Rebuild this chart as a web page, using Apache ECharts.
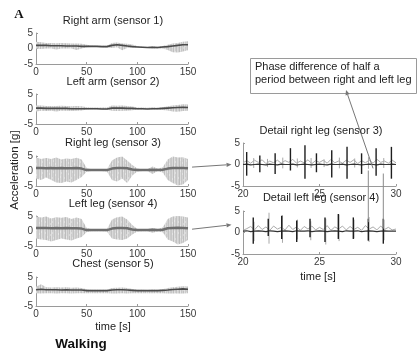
<!DOCTYPE html>
<html><head><meta charset="utf-8">
<script src="https://cdn.jsdelivr.net/npm/echarts@6/dist/echarts.min.js"></script>
<style>html,body{margin:0;padding:0;background:#fff}#c{width:417px;height:356px}</style>
</head><body><div id="c"></div>
<script>
// ---- overview time bins (s) ----
const tBins = [0,5,10,15,20,25,30,35,40,45,50,55,60,65,70,75,80,85,90,95,100,105,110,115,120,125,130,135,140,145,150];
const xTicksOverview = [0,50,100,150];
const yTicks = [-5,0,5];

// Right arm (sensor 1)
const rArmHi  = [2.2,2.0,1.8,1.8,1.7,1.8,1.7,1.6,1.6,1.5,1.2,1.0,0.9,0.9,0.9,1.8,1.9,1.6,1.5,1.3,0.8,0.6,0.5,0.7,0.6,0.8,1.2,1.6,1.8,2.2,2.3];
const rArmLo  = [0.0,-0.2,0.0,0.0,-0.3,0.0,0.0,0.0,-0.5,0.0,0.4,0.5,0.5,0.4,0.3,0.2,0.4,-0.6,0.2,0.3,0.4,0.3,0.2,0.0,0.0,0.0,-0.5,-1.2,-1.3,-1.0,-0.6];
const rArmMid = [1.0,1.0,1.0,0.9,0.9,0.9,0.8,0.8,0.8,0.7,0.7,0.7,0.7,0.6,0.6,1.0,1.2,1.0,0.8,0.6,0.5,0.4,0.3,0.4,0.3,0.5,0.6,0.8,1.0,1.2,1.2];
// Left arm (sensor 2)
const lArmHi  = [1.2,1.2,1.0,1.0,1.0,1.1,1.0,0.9,1.0,0.9,0.6,0.5,0.5,0.5,0.5,1.2,1.1,1.2,1.0,0.8,0.5,0.5,0.4,0.6,0.5,0.6,0.9,1.2,1.3,1.6,1.5];
const lArmLo  = [-0.8,-0.6,-0.7,-0.6,-0.8,-0.6,-0.6,-0.7,-0.6,-0.5,-0.2,-0.1,-0.1,-0.1,-0.2,-0.6,-0.7,-0.6,-0.6,-0.4,-0.2,-0.2,-0.1,-0.2,-0.2,-0.3,-0.5,-0.8,-0.9,-0.7,-0.6];
const lArmMid = [0.3,0.3,0.2,0.2,0.2,0.2,0.2,0.1,0.1,0.1,0.1,0.1,0.1,0.0,0.0,0.3,0.3,0.3,0.2,0.2,0.1,0.1,0.0,0.1,0.1,0.2,0.3,0.4,0.5,0.6,0.5];
// Right leg (sensor 3)
const rLegHi  = [4.5,4.0,4.3,4.0,4.5,3.8,4.2,4.0,4.4,3.8,1.0,0.6,0.6,0.5,0.6,3.5,4.5,4.8,3.5,2.0,0.8,0.6,0.6,1.5,0.8,1.2,3.8,4.8,4.5,4.6,4.0];
const rLegLo  = [-2.5,-3.0,-2.2,-3.0,-3.8,-4.0,-3.5,-3.8,-3.0,-2.0,-0.2,0.0,0.0,0.0,-0.2,-3.0,-3.5,-2.5,-4.0,-1.5,-0.2,0.0,0.0,-1.0,0.0,-0.5,-3.0,-4.0,-4.8,-4.5,-3.0];
const rLegMid = [1.0,1.0,0.9,1.0,0.9,1.0,0.9,0.9,1.0,0.8,0.3,0.3,0.3,0.3,0.3,0.8,1.0,1.0,0.9,0.5,0.3,0.3,0.3,0.4,0.3,0.4,0.8,1.0,1.0,1.0,0.9];
// Left leg (sensor 4)
const lLegHi  = [4.8,4.5,4.8,4.2,4.6,4.4,4.7,4.0,4.5,4.0,1.0,0.6,0.6,0.6,0.6,3.8,4.6,4.8,3.8,2.0,0.7,0.6,0.6,1.0,0.7,1.2,4.0,4.8,5.0,4.8,4.5];
const lLegLo  = [-2.5,-2.8,-3.0,-3.5,-3.0,-2.5,-2.8,-3.2,-2.5,-2.0,-0.3,-0.1,-0.1,-0.1,-0.2,-2.5,-2.8,-3.0,-2.5,-1.2,-0.2,-0.1,-0.1,-0.6,-0.2,-0.4,-2.8,-3.5,-4.5,-4.0,-3.0];
const lLegMid = [1.0,1.0,1.0,0.9,1.0,0.9,1.0,0.9,0.9,0.8,0.3,0.3,0.3,0.3,0.3,0.8,1.0,1.0,0.9,0.5,0.3,0.3,0.3,0.4,0.3,0.4,0.9,1.0,1.1,1.0,0.9];
// Chest (sensor 5)
const chestHi  = [1.6,2.5,1.5,1.4,1.5,1.4,1.5,1.3,1.4,1.2,0.8,0.6,0.6,0.6,0.6,1.2,1.3,1.4,1.2,0.9,0.6,0.6,0.5,0.7,0.6,0.8,1.2,1.5,1.6,1.8,1.7];
const chestLo  = [-0.6,-0.7,-0.6,-0.6,-0.7,-0.6,-0.6,-0.7,-0.6,-0.6,-0.6,-0.6,-0.6,-0.6,-0.6,-0.7,-0.7,-0.6,-0.7,-0.6,-0.6,-0.6,-0.6,-0.6,-0.6,-0.6,-0.7,-0.7,-0.7,-0.7,-0.6];
const chestMid = [0.6,0.8,0.6,0.6,0.6,0.5,0.6,0.5,0.5,0.5,0.3,0.3,0.3,0.3,0.3,0.5,0.6,0.6,0.5,0.4,0.3,0.3,0.3,0.3,0.3,0.4,0.5,0.7,0.8,0.9,0.8];

// ---- detail window 20-30 s ----
const xTicksDetail = [20,25,30];
const detailT = [20,20.25,20.5,20.75,21,21.25,21.5,21.75,22,22.25,22.5,22.75,23,23.25,23.5,23.75,24,24.25,24.5,24.75,25,25.25,25.5,25.75,26,26.25,26.5,26.75,27,27.25,27.5,27.75,28,28.25,28.5,28.75,29,29.25,29.5,29.75,30];
// right leg detail
const rGray = [0.4,0.9,0.3,1.0,0.5,1.1,0.2,0.8,0.4,1.0,0.3,0.9,0.5,1.2,0.3,0.8,0.4,1.1,0.2,0.9,0.5,1.0,0.3,1.2,0.4,0.8,0.3,1.0,0.5,1.1,0.2,0.9,0.4,1.0,0.3,1.2,0.5,0.8,0.3,1.0,0.4];
const rBase = [0.0,0.1,-0.1,0.0,0.1,0.0,-0.1,0.1,0.0,-0.1,0.1,0.0,0.0,0.1,-0.1,0.0,0.1,0.0,-0.1,0.0,0.1,0.0,-0.1,0.1,0.0,0.0,0.1,-0.1,0.0,0.1,0.0,-0.1,0.0,0.1,0.0,-0.1,0.1,0.0,0.0,0.1,0.0];
const rSpikeT  = [20.24,21.1,22.1,23.1,24.05,24.8,25.8,26.8,27.75,28.7,29.7];
const rSpikeHi = [2.9,2.1,2.6,3.8,4.5,2.6,3.3,4.1,2.6,3.8,4.1];
const rSpikeLo = [-2.6,-1.8,-2.2,-1.4,-3.3,-1.8,-3.0,-3.3,-2.2,-2.6,-3.3];
const rMinorT  = [20.7,21.6,22.6,23.55,24.45,25.3,26.3,27.3,28.2,29.2];
const rMinorHi = [1.5,1.3,1.6,1.4,1.5,1.2,1.6,1.4,1.7,1.5];
const rMinorLo = [-0.8,-0.6,-0.9,-0.7,-0.8,-0.6,-0.9,-0.7,-1.0,-0.8];
// left leg detail
const lGray = [0.5,0.9,1.4,0.6,1.6,0.7,1.3,0.5,1.5,0.8,1.2,0.6,1.7,0.7,1.3,0.5,1.4,0.8,1.5,0.6,1.2,0.7,1.6,0.5,1.3,0.8,1.5,0.6,1.4,0.7,1.2,0.5,1.6,0.8,1.3,0.6,1.5,0.7,1.2,0.6,0.8];
const lBase = [0.3,0.4,0.2,0.3,0.4,0.3,0.2,0.4,0.3,0.2,0.3,0.4,0.3,0.2,0.4,0.3,0.3,0.4,0.2,0.3,0.4,0.3,0.2,0.3,0.4,0.3,0.2,0.4,0.3,0.3,0.4,0.2,0.3,0.4,0.3,0.2,0.3,0.4,0.3,0.3,0.3];
const lSpikeT  = [20.67,21.65,22.53,23.51,24.38,25.36,26.23,27.21,28.19,29.17];
const lSpikeHi = [3.5,3.2,3.9,2.8,3.2,3.5,4.3,3.5,3.2,3.2];
const lSpikeLo = [-2.6,-0.8,-1.5,-2.2,-1.1,-2.2,-1.5,-1.5,-1.9,-2.6];
const lMinorT  = [20.72,21.7,22.58,23.56,24.43,25.41,26.28,27.26,28.24,29.22];
const lMinorHi = [2.5,4.6,4.0,3.0,2.6,3.2,4.2,3.0,3.6,3.0];
const lMinorLo = [-2.0,-2.6,-2.4,-1.6,-1.8,-2.8,-2.0,-1.4,-2.2,-1.8];

const FONT = "'Liberation Sans', Arial, Helvetica, sans-serif";
const AX = '#9a9a9a', LBL = '#3a3a3a';

// soft streaky fill texture (style only) to mimic dense raw samples
function makeTexture() {
  const shades = ['#c8c8c8','#d8d8d8','#bebebe','#dfdfdf','#cdcdcd','#c3c3c3','#dadada','#d0d0d0','#bbbbbb','#dcdcdc','#c6c6c6','#d4d4d4','#c0c0c0','#e0e0e0','#cacaca','#d2d2d2','#c2c2c2','#d9d9d9','#cbcbcb'];
  const cv = document.createElement('canvas');
  cv.width = shades.length; cv.height = 11;
  const ctx = cv.getContext('2d');
  shades.forEach((s, i) => { ctx.fillStyle = s; ctx.fillRect(i, 0, 1, 11); });
  ctx.fillStyle = 'rgba(255,255,255,0.3)';
  [[1,2],[4,7],[7,1],[9,5],[11,8],[3,0],[12,3],[15,6],[17,9],[14,1]].forEach(p => ctx.fillRect(p[0], p[1], 1, 2));
  return {image: cv, repeat: 'repeat'};
}
const TEX = makeTexture();

const overviewGrids = [
  {top:33, height:31}, {top:94, height:30}, {top:156, height:30}, {top:216, height:30}, {top:277, height:29}
];
const grids = overviewGrids.map(g => ({left:36, width:152, top:g.top, height:g.height}));
grids.push({left:243, width:153, top:143, height:43});
grids.push({left:243, width:153, top:211, height:43});

function xAx(i, min, max, interval) {
  return {gridIndex:i, type:'value', min, max, interval,
    axisLine:{show:true, onZero:false, lineStyle:{color:AX, width:1}},
    axisTick:{show:true, inside:true, length:2, lineStyle:{color:AX}},
    splitLine:{show:false},
    axisLabel:{fontSize:10, color:LBL, fontFamily:FONT, margin:3, showMinLabel:true, showMaxLabel:true}};
}
function yAx(i) {
  return {gridIndex:i, type:'value', min:yTicks[0], max:yTicks[2], interval:5,
    axisLine:{show:true, onZero:false, lineStyle:{color:AX, width:1}},
    axisTick:{show:true, inside:true, length:2, lineStyle:{color:AX}},
    splitLine:{show:false},
    axisLabel:{fontSize:10, color:LBL, fontFamily:FONT, margin:3, showMinLabel:true, showMaxLabel:true}};
}
const xAxes = [], yAxes = [];
for (let i = 0; i < 5; i++) { xAxes.push(xAx(i, xTicksOverview[0], xTicksOverview[3], 50)); yAxes.push(yAx(i)); }
for (let i = 5; i < 7; i++) { xAxes.push(xAx(i, xTicksDetail[0], xTicksDetail[2], 5)); yAxes.push(yAx(i)); }

function band(g, hi, lo, fill) {
  return {type:'custom', xAxisIndex:g, yAxisIndex:g, silent:true, z:1,
    data:[[tBins[0], lo[0]]],
    renderItem:(p, api) => {
      const pts = [];
      for (let i = 0; i < tBins.length; i++) pts.push(api.coord([tBins[i], hi[i]]));
      for (let i = tBins.length - 1; i >= 0; i--) pts.push(api.coord([tBins[i], lo[i]]));
      return {type:'polygon', shape:{points:pts}, style:{fill}};
    }};
}
function line(g, xs, ys, color, width, z) {
  return {type:'line', xAxisIndex:g, yAxisIndex:g, silent:true, z:z||2,
    data: xs.map((x, i) => [x, ys[i]]), showSymbol:false, symbol:'none',
    lineStyle:{color, width}};
}
function spikes(g, ts, hi, lo, color, width, z) {
  return {type:'custom', xAxisIndex:g, yAxisIndex:g, silent:true, z:z||3,
    data: ts.map((t, i) => [t, hi[i], lo[i]]),
    encode:{x:0, y:[1,2]},
    renderItem:(p, api) => {
      const a = api.coord([api.value(0), api.value(1)]);
      const b = api.coord([api.value(0), api.value(2)]);
      return {type:'line', shape:{x1:a[0], y1:a[1], x2:b[0], y2:b[1]}, style:{stroke:color, lineWidth:width}};
    }};
}

const channels = [
  [rArmHi, rArmLo, rArmMid], [lArmHi, lArmLo, lArmMid], [rLegHi, rLegLo, rLegMid],
  [lLegHi, lLegLo, lLegMid], [chestHi, chestLo, chestMid]
];
const series = [];
channels.forEach((c, g) => {
  series.push(band(g, c[0], c[1], TEX));
  series.push(line(g, tBins, c[2], g >= 2 && g <= 3 ? '#6e6e6e' : '#4a4a4a', g >= 2 && g <= 3 ? 2.5 : 1.6));
});
series.push(line(5, detailT, rGray, '#ababab', 1, 2));
series.push(spikes(5, rMinorT, rMinorHi, rMinorLo, '#a8a8a8', 1, 2));
series.push(line(5, detailT, rBase, '#333', 1.2, 3));
series.push(spikes(5, rSpikeT, rSpikeHi, rSpikeLo, '#1e1e1e', 1.4, 4));
series.push(line(6, detailT, lGray, '#ababab', 1, 2));
series.push(spikes(6, lMinorT, lMinorHi, lMinorLo, '#a8a8a8', 1, 2));
series.push(line(6, detailT, lBase, '#333', 1.2, 3));
series.push(spikes(6, lSpikeT, lSpikeHi, lSpikeLo, '#1e1e1e', 1.4, 4));

function txt(text, x, y, size, opts) {
  opts = opts || {};
  return {type:'text', silent:true, z:10, x, y, rotation:opts.rotation || 0,
    style:{text, fill:opts.color || '#222', font:(opts.weight || 'normal') + ' ' + size + 'px ' + (opts.family || FONT),
      textAlign:opts.align || 'center', textVerticalAlign:'middle'}};
}
const titleGraphics = [
  txt('A', 19, 15, 13, {weight:'bold', family:"'Liberation Serif', 'Times New Roman', serif", color:'#111'}),
  txt('Right arm (sensor 1)', 113, 21, 11),
  txt('Left arm (sensor 2)', 113, 82, 11),
  txt('Right leg (sensor 3)', 113, 143, 11),
  txt('Left leg (sensor 4)', 113, 204, 11),
  txt('Chest (sensor 5)', 113, 264, 11),
  txt('time [s]', 113, 327, 11),
  txt('Walking', 81, 344, 13.5, {weight:'bold', color:'#111'}),
  txt('Acceleration [g]', 15, 170, 11.5, {rotation:Math.PI/2}),
  txt('Detail right leg (sensor 3)', 321, 131, 11),
  txt('Detail left leg (sensor 4)', 321, 198, 11),
  txt('time [s]', 318, 277, 11)
];

const chart = echarts.init(document.getElementById('c'), null, {renderer:'canvas'});
chart.setOption({
  animation:false,
  backgroundColor:'#fff',
  grid: grids,
  xAxis: xAxes,
  yAxis: yAxes,
  series
});

// annotations: positions derived from the axes
const P = (g, v) => chart.convertToPixel({gridIndex:g}, v);
function arrow(a, b, color) {
  const dx = b[0] - a[0], dy = b[1] - a[1], L = Math.hypot(dx, dy);
  const ux = dx / L, uy = dy / L, s = 5, w = 2.2;
  const base = [b[0] - ux * s, b[1] - uy * s];
  return [
    {type:'line', silent:true, z:9, shape:{x1:a[0], y1:a[1], x2:base[0], y2:base[1]}, style:{stroke:color, lineWidth:1}},
    {type:'polygon', silent:true, z:9, shape:{points:[b, [base[0] - uy * w, base[1] + ux * w], [base[0] + uy * w, base[1] - ux * w]]}, style:{fill:color}}
  ];
}
const g = titleGraphics.slice();
g.push(...arrow(P(2, [154, 1.3]), P(5, [19.25, 0]), '#777'));
g.push(...arrow(P(3, [154, 0.6]), P(6, [19.25, 1.8]), '#777'));
// callout box
g.push({type:'rect', silent:true, z:8, shape:{x:250.5, y:58.5, width:166, height:35}, style:{fill:'#fff', stroke:'#9a9a9a', lineWidth:1}});
g.push(txt('Phase difference of half a', 255, 67, 11, {align:'left'}));
g.push(txt('period between right and left leg', 255, 80, 11, {align:'left'}));
g.push(...arrow(P(5, [28.5, -0.9]), [346, 90], '#777'));
// vertical connectors between right- and left-leg detail spikes
[[lSpikeT[8], -1.4, 2.4], [lSpikeT[9], -2.1, 0.9]].forEach(v => {
  const a = P(5, [v[0], v[1]]), b = P(6, [v[0], v[2]]);
  g.push({type:'line', silent:true, z:9, shape:{x1:a[0], y1:a[1], x2:b[0], y2:b[1]}, style:{stroke:'#8a8a8a', lineWidth:1}});
});
chart.setOption({graphic: g});
</script>
</body></html>
